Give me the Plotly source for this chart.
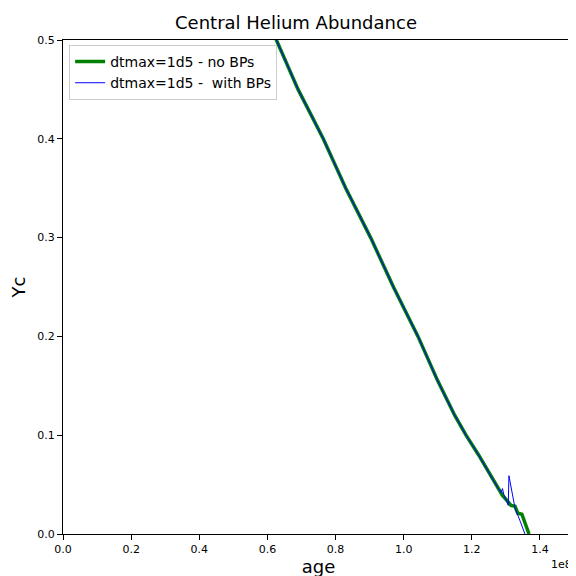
import plotly.graph_objects as go

# Central helium abundance vs age
age_nobp = [62.0e6, 69e6, 76.4e6, 83e6, 90.3e6, 97e6, 104.2e6, 110e6, 115e6,
            118.3e6, 122e6, 125e6, 127.6e6, 129e6, 130.3e6, 131.5e6, 132.7e6, 133.5e6,
            134.7e6, 135.5e6, 136.8e6]
yc_nobp = [0.505, 0.45, 0.40, 0.35, 0.30, 0.25, 0.20, 0.155, 0.12,
           0.10, 0.08, 0.062, 0.047, 0.039, 0.034, 0.029, 0.028, 0.021,
           0.020, 0.012, 0.0]
age_bp = [62.0e6, 69e6, 76.4e6, 83e6, 90.3e6, 97e6, 104.2e6, 110e6, 115e6,
          118.3e6, 122e6, 125e6, 127.6e6, 128.6e6, 129.0e6, 129.4e6, 130.7e6, 130.9e6,
          132.7e6, 134.2e6, 135.6e6]
yc_bp = [0.505, 0.45, 0.40, 0.35, 0.30, 0.25, 0.20, 0.155, 0.12,
         0.10, 0.08, 0.062, 0.047, 0.042, 0.046, 0.040, 0.029, 0.059,
         0.026, 0.013, 0.0]

fig = go.Figure()
fig.add_trace(go.Scatter(x=age_nobp, y=yc_nobp, mode="lines", name="dtmax=1d5 - no BPs",
                         line=dict(color="green", width=3.5)))
fig.add_trace(go.Scatter(x=age_bp, y=yc_bp, mode="lines", name="dtmax=1d5 -  with BPs",
                         line=dict(color="blue", width=1)))

axis = dict(showgrid=False, zeroline=False, showline=True, linecolor="black", mirror=True,
            ticks="outside", tickcolor="black", tickfont=dict(size=11, color="black"),
            automargin=False)
fig.update_layout(
    width=576, height=576, plot_bgcolor="white", paper_bgcolor="white",
    font=dict(family="DejaVu Sans", color="black"),
    margin=dict(l=55, r=10, t=32, b=50),
    title=dict(text="Central Helium Abundance", x=0.5, xanchor="center", y=0.985,
               font=dict(size=18)),
    xaxis=dict(axis, range=[0, 1.5e8], tickvals=[0, 2e7, 4e7, 6e7, 8e7, 1e8, 1.2e8, 1.4e8],
               ticktext=["0.0", "0.2", "0.4", "0.6", "0.8", "1.0", "1.2", "1.4"],
               title=dict(text="age", font=dict(size=18), standoff=4)),
    yaxis=dict(axis, range=[0, 0.5], dtick=0.1, tickformat=".1f",
               title=dict(text="Yc", font=dict(size=18), standoff=8)),
    legend=dict(x=0.012, y=0.99, xanchor="left", yanchor="top", bgcolor="white",
                bordercolor="#cccccc", borderwidth=1, font=dict(size=14)),
    showlegend=True,
)
fig.add_annotation(text="1e8", xref="paper", yref="paper", x=1.0, y=0, yshift=-22,
                   xanchor="right", yanchor="top", showarrow=False, font=dict(size=11))
fig.write_html("out.html")
